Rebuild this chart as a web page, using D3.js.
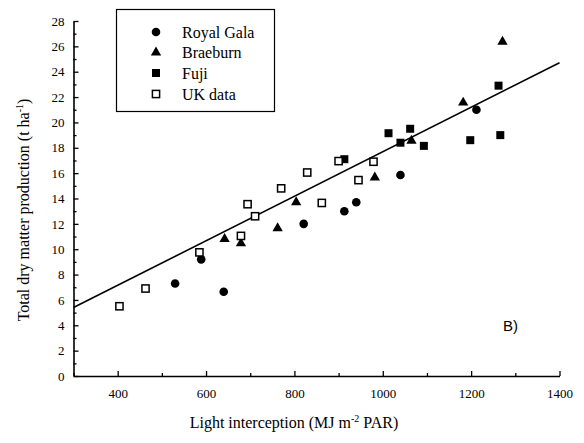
<!DOCTYPE html>
<html>
<head>
<meta charset="utf-8">
<script src="https://cdn.jsdelivr.net/npm/d3@7"></script>
<style>
  body { margin: 0; background: #fff; }
  svg { display: block; }
</style>
</head>
<body>
<svg id="chart" width="584" height="443"></svg>
<script>
// light interception (MJ m-2 PAR) and total dry matter (t/ha)
const royalGalaX = [530, 589, 640, 821, 913, 940, 1040, 1212];
const royalGalaY = [7.3, 9.2, 6.65, 12.0, 13.0, 13.7, 15.85, 21.0];
const braeburnX = [642, 679, 762, 804, 982, 1065, 1182, 1271];
const braeburnY = [10.85, 10.5, 11.7, 13.75, 15.7, 18.6, 21.6, 26.4];
const fujiX = [913, 1013, 1040, 1062, 1093, 1198, 1262, 1266];
const fujiY = [17.1, 19.15, 18.4, 19.5, 18.15, 18.6, 22.9, 19.0];
const ukX = [404, 463, 585, 679, 694, 711, 770, 829, 862, 900, 945, 979];
const ukY = [5.5, 6.9, 9.75, 11.05, 13.55, 12.6, 14.8, 16.05, 13.65, 16.95, 15.45, 16.9];

const xTicks = [400, 600, 800, 1000, 1200, 1400];
const xMinorTicks = [300, 500, 700, 900, 1100, 1300];
const yTicks = [0, 2, 4, 6, 8, 10, 12, 14, 16, 18, 20, 22, 24, 26, 28];
const yMinorTicks = [1, 3, 5, 7, 9, 11, 13, 15, 17, 19, 21, 23, 25, 27];

// fitted line through all points
const fitIntercept = 0.135;
const fitSlope = 0.01755;
const fitRange = [300, 1400];

const series = [
  { name: 'Royal Gala', shape: 'circle', xs: royalGalaX, ys: royalGalaY },
  { name: 'Braeburn', shape: 'triangle', xs: braeburnX, ys: braeburnY },
  { name: 'Fuji', shape: 'square', xs: fujiX, ys: fujiY },
  { name: 'UK data', shape: 'open', xs: ukX, ys: ukY }
];

const serif = '"Liberation Serif", "DejaVu Serif", serif';

const svg = d3.select('#chart');

const x = d3.scaleLinear().domain([300, 1400]).range([73.5, 559.5]);
const y = d3.scaleLinear().domain([0, 28]).range([376, 21]);

// symbols
function drawSymbol(g, shape, cx, cy) {
  if (shape === 'circle') {
    g.append('circle').attr('cx', cx).attr('cy', cy).attr('r', 4.3).attr('fill', '#000');
  } else if (shape === 'triangle') {
    g.append('path')
      .attr('d', d3.symbol().type(d3.symbolTriangle).size(46)())
      .attr('transform', `translate(${cx},${cy + 0.5})`)
      .attr('fill', '#000');
  } else if (shape === 'square') {
    g.append('rect').attr('x', cx - 4).attr('y', cy - 4).attr('width', 8).attr('height', 8).attr('fill', '#000');
  } else {
    g.append('rect').attr('x', cx - 3.6).attr('y', cy - 3.6).attr('width', 7.2).attr('height', 7.2)
      .attr('fill', '#fff').attr('stroke', '#000').attr('stroke-width', 1.5);
  }
}

// axes
svg.append('g')
  .attr('transform', `translate(${x(300)},0)`)
  .call(d3.axisLeft(y).tickValues(yTicks).tickFormat(d3.format('d'))
    .tickSizeInner(-5).tickSizeOuter(0).tickPadding(9));
svg.append('g')
  .attr('transform', `translate(${x(300)},0)`)
  .call(d3.axisLeft(y).tickValues(yMinorTicks).tickSizeInner(-3).tickSizeOuter(0).tickFormat(''))
  .call(g => g.select('.domain').remove());

svg.append('g')
  .attr('transform', `translate(0,${y(0)})`)
  .call(d3.axisBottom(x).tickValues(xTicks).tickFormat(d3.format('d'))
    .tickSizeInner(-5).tickSizeOuter(0).tickPadding(13));
svg.append('g')
  .attr('transform', `translate(0,${y(0)})`)
  .call(d3.axisBottom(x).tickValues(xMinorTicks).tickSizeInner(-3).tickSizeOuter(0).tickFormat(''))
  .call(g => g.select('.domain').remove());

svg.selectAll('.domain').attr('stroke-width', 1.6);
svg.selectAll('.tick line').attr('stroke-width', 1.3);
svg.selectAll('.tick text')
  .attr('font-family', serif)
  .attr('font-size', 13)
  .attr('fill', '#000');

// regression line
svg.append('line')
  .attr('x1', x(fitRange[0])).attr('y1', y(fitIntercept + fitSlope * fitRange[0]))
  .attr('x2', x(fitRange[1])).attr('y2', y(fitIntercept + fitSlope * fitRange[1]))
  .attr('stroke', '#000').attr('stroke-width', 1.6);

// points
const pts = svg.append('g');
series.forEach(s => {
  s.xs.forEach((v, i) => drawSymbol(pts, s.shape, x(v), y(s.ys[i])));
});

// legend
const legend = svg.append('g');
legend.append('rect')
  .attr('x', 116.5).attr('y', 9.5).attr('width', 158).attr('height', 102)
  .attr('fill', '#fff').attr('stroke', '#000').attr('stroke-width', 1.2);
const rowY = [32, 52, 73, 94];
series.forEach((s, i) => {
  drawSymbol(legend, s.shape, 156, rowY[i]);
  legend.append('text')
    .attr('x', 182).attr('y', rowY[i] + 5.5)
    .attr('font-family', serif)
    .attr('font-size', 16)
    .text(s.name);
});

// axis titles
const xt = svg.append('text')
  .attr('x', 294).attr('y', 428)
  .attr('text-anchor', 'middle')
  .attr('font-family', serif)
  .attr('font-size', 16);
xt.append('tspan').text('Light interception (MJ m');
xt.append('tspan').attr('dy', -6).attr('font-size', 10).text('-2');
xt.append('tspan').attr('dy', 6).text(' PAR)');

const yt = svg.append('text')
  .attr('transform', 'translate(29,210) rotate(-90)')
  .attr('text-anchor', 'middle')
  .attr('font-family', serif)
  .attr('font-size', 16);
yt.append('tspan').text('Total dry matter production (t ha');
yt.append('tspan').attr('dy', -6).attr('font-size', 10).text('-1');
yt.append('tspan').attr('dy', 6).text(')');

svg.append('text')
  .attr('x', 503).attr('y', 331)
  .attr('font-family', '"Liberation Sans", Arial, sans-serif')
  .attr('font-size', 15)
  .text('B)');
</script>
</body>
</html>
